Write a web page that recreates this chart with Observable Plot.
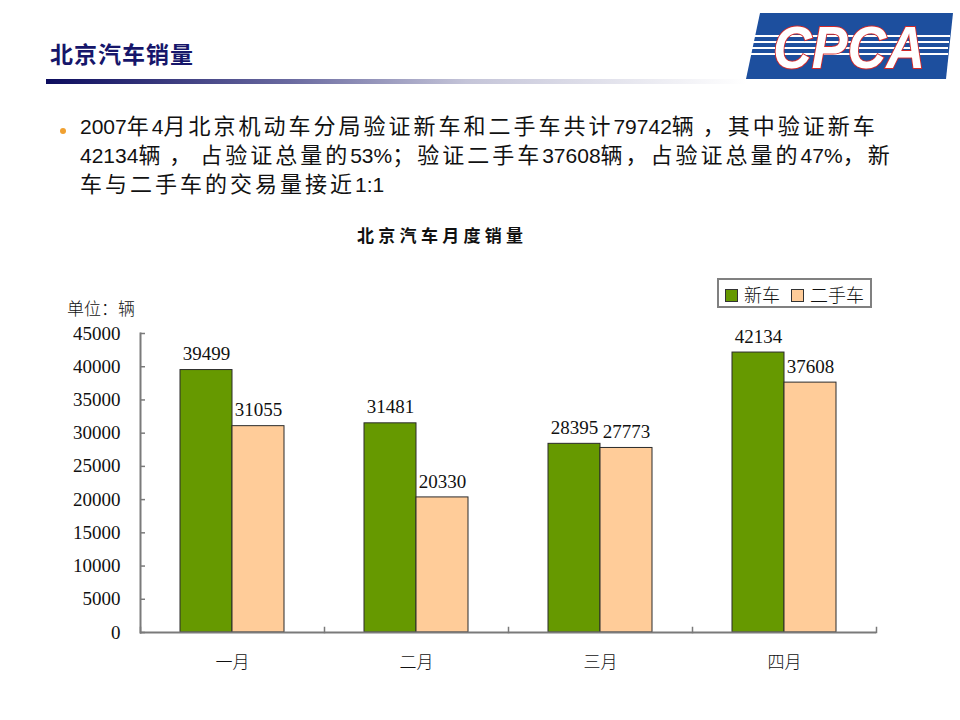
<!DOCTYPE html>
<html><head><meta charset="utf-8">
<script src="https://cdn.jsdelivr.net/npm/d3@7"></script>
<script src="https://cdn.jsdelivr.net/npm/@observablehq/plot@0.6"></script>
<style>
body{margin:0;background:#fff;}
#page{position:relative;width:960px;height:720px;overflow:hidden;background:#fff;}
.abs{position:absolute;white-space:nowrap;}
.hdr{left:50px;top:36px;font:700 23px "Noto Sans CJK SC",sans-serif;color:#16166a;letter-spacing:1px;}
.bar{left:46px;top:79px;width:700px;height:5px;background:linear-gradient(to right,#0c0c5e 0%,#6a6aa0 35%,#c4c4d8 60%,#ffffff 100%);}
.line{left:80px;font-size:21px;color:#111;line-height:28px;}
.lat{font-family:"Liberation Sans",Arial,sans-serif;font-size:21px;}
.cjk{font-family:"Noto Sans CJK SC",sans-serif;font-size:22px;letter-spacing:3px;}
.dot{left:60px;top:128px;width:6px;height:6px;border-radius:50%;background:#f0a030;}
.ctitle{left:357px;top:222px;font:700 17px "Noto Sans CJK SC",sans-serif;letter-spacing:4.3px;color:#111;}
.unit{left:67px;top:295px;font:300 17px "Noto Sans CJK SC",sans-serif;color:#111;}
.legend{left:717px;top:278px;width:151px;height:26px;border:2px solid #808080;background:#fff;}
.sw{position:absolute;top:9px;width:11px;height:11px;border:1px solid #333;}
.lt{position:absolute;top:1px;font:300 18px "Noto Sans CJK SC",sans-serif;color:#111;}
#chart{position:absolute;left:0;top:300px;}
</style></head><body>
<div id="page">
  <div class="abs hdr">北京汽车销量</div>
  <div class="abs bar"></div>
  <svg class="abs" style="left:0;top:0" width="960" height="100">
    <polygon points="760,13 953,13 946,79 746,79" fill="#1d4f9e"/>
    <g stroke="#fff" stroke-width="2">
      <line x1="752" y1="36" x2="950" y2="36"/>
      <line x1="751" y1="42" x2="949" y2="42"/>
      <line x1="750" y1="48" x2="948" y2="48"/>
      <line x1="749" y1="54" x2="948" y2="54"/>
    </g>
    <text x="773" y="68" textLength="152" lengthAdjust="spacingAndGlyphs" font-family="Liberation Sans, Arial, sans-serif" font-style="italic" font-weight="700" font-size="59" fill="#fff" stroke="#d42a2a" stroke-width="2" paint-order="stroke">CPCA</text>
  </svg>
  <div class="abs dot"></div>
  <div class="abs line" id="l1" style="top:110px"></div>
  <div class="abs line" id="l2" style="top:139px"></div>
  <div class="abs line" id="l3" style="top:168px"></div>
  <div class="abs ctitle" id="ctitle"></div>
  <div class="abs unit" id="unit"></div>
  <div id="chart"></div>
  <div class="abs legend" id="legend"></div>
</div>
<script>
const headerLines = [
  "2007年4月北京机动车分局验证新车和二手车共计79742辆 ，其中验证新车",
  "42134辆 ， 占验证总量的53%；验证二手车37608辆，占验证总量的47%，新",
  "车与二手车的交易量接近1:1"
];
const chartTitle = "北京汽车月度销量";
const unitLabel = "单位：辆";
const months = ["一月", "二月", "三月", "四月"];
const series = ["新车", "二手车"];
const newCars = [39499, 31481, 28395, 42134];
const usedCars = [31055, 20330, 27773, 37608];
const yTicks = [0, 5000, 10000, 15000, 20000, 25000, 30000, 35000, 40000, 45000];
const colors = ["#669900", "#FFCC99"];

// bullet text with separate Latin / CJK runs
function fill(el, str) {
  const parts = str.match(/[\x00-\x7F]+|[^\x00-\x7F]+/g) || [];
  for (const p of parts) {
    const s = document.createElement("span");
    s.className = /[\x00-\x7F]/.test(p[0]) ? "lat" : "cjk";
    s.textContent = p;
    el.appendChild(s);
  }
}
headerLines.forEach((t, i) => fill(document.getElementById("l" + (i + 1)), t));
document.getElementById("ctitle").textContent = chartTitle;
document.getElementById("unit").textContent = unitLabel;

// legend
const lg = document.getElementById("legend");
const swLeft = [6, 72], txtLeft = [25, 91];
series.forEach((s, i) => {
  const sw = document.createElement("div");
  sw.className = "sw"; sw.style.left = swLeft[i] + "px"; sw.style.background = colors[i];
  lg.appendChild(sw);
  const t = document.createElement("div");
  t.className = "lt"; t.style.left = txtLeft[i] + "px"; t.textContent = s;
  lg.appendChild(t);
});

const data = months.flatMap((m, i) => [
  {month: m, series: series[0], value: newCars[i]},
  {month: m, series: series[1], value: usedCars[i]}
]);

const chart = Plot.plot({
  width: 960,
  height: 390,
  marginTop: 33,
  marginBottom: 58,
  marginLeft: 138,
  marginRight: 83,
  style: {fontFamily: "'Liberation Serif', 'DejaVu Serif', serif", fontSize: "19px", color: "#111", background: "transparent", overflow: "visible"},
  fx: {domain: months, padding: 0, label: null},
  x: {domain: series, paddingInner: 0, paddingOuter: 0.745, axis: null},
  y: {domain: [0, 45000], label: null, axis: null},
  color: {domain: series, range: colors},
  marks: [
    Plot.barY(data, {fx: "month", x: "series", y: "value", fill: "series", stroke: "#2b2b2b", strokeWidth: 1}),
    Plot.text(data, {fx: "month", x: "series", y: "value", text: d => String(d.value), dy: -16, fontSize: 19, fill: "#111"}),
    Plot.ruleY([0], {stroke: "#7a7a7a", strokeWidth: 2}),
    Plot.frame({anchor: "left", facetAnchor: "left", stroke: "#7a7a7a", strokeWidth: 2}),
    Plot.frame({anchor: "left", insetTop: 294, stroke: "#7a7a7a", strokeWidth: 1.5}),
    Plot.frame({anchor: "right", facetAnchor: "right", insetTop: 294, stroke: "#7a7a7a", strokeWidth: 1.5}),
    Plot.axisY(yTicks, {anchor: "left", tickSize: -5, tickPadding: 25, tickFormat: d => String(d), stroke: "#7a7a7a", strokeWidth: 1.5, label: null, fontSize: 19}),
    Plot.axisFx({anchor: "bottom", tickSize: 0, tickPadding: 23, label: null, fontFamily: "Noto Sans CJK SC", fontWeight: 300, fontSize: 17})
  ]
});
document.getElementById("chart").appendChild(chart);
</script>
</body></html>
